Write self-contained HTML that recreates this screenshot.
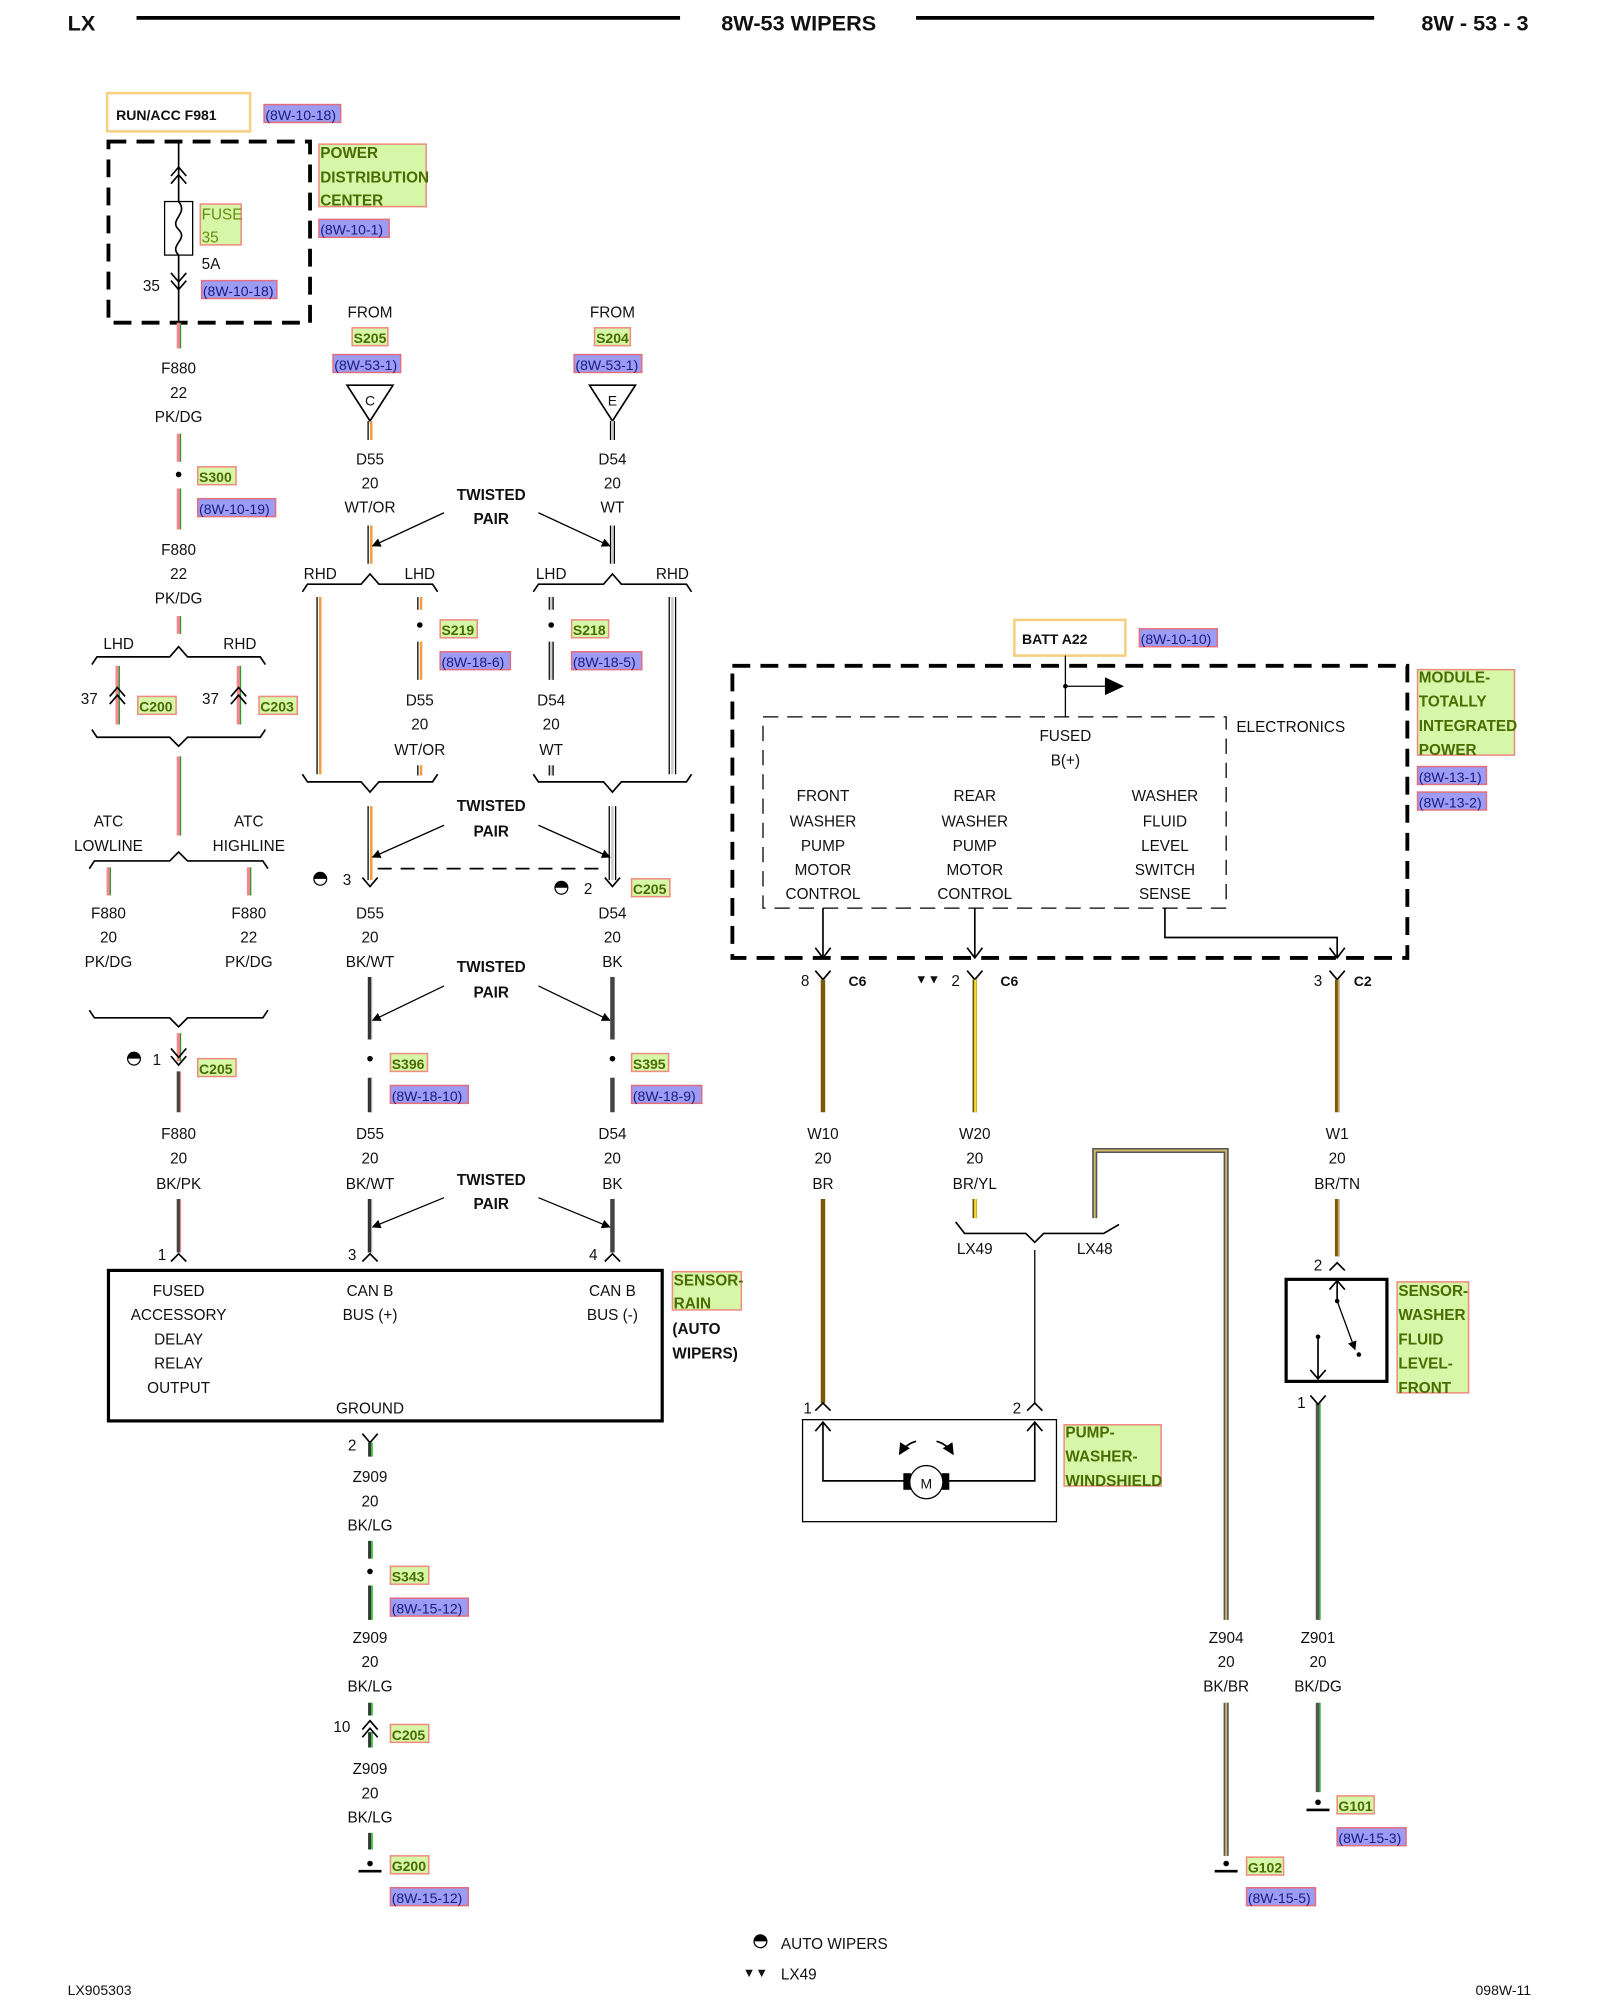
<!DOCTYPE html>
<html><head><meta charset="utf-8"><style>
html,body{margin:0;padding:0;background:#fff}
svg{display:block}
text{font-family:"Liberation Sans",sans-serif;font-size:12px;fill:#111}
.c{text-anchor:middle}
.b{font-weight:bold}
.g{fill:#4a6b00;font-weight:bold}
.bl{fill:#1a1a80}
.gr{fill:#d6f7a8;stroke:#ef8c80;stroke-width:1.2}
.br{fill:#9c9cf5;stroke:#e07080;stroke-width:1.2}
.k{stroke:#000;fill:none;stroke-width:1.3}
</style></head><body>
<svg width="1600" height="2000" viewBox="0 0 1254 1568" preserveAspectRatio="none" xmlns="http://www.w3.org/2000/svg">
<defs>
<marker id="ah" viewBox="0 0 10 10" refX="9" refY="5" markerWidth="7" markerHeight="7" orient="auto"><path d="M0,0 L10,5 L0,10z" fill="#000"/></marker>
</defs>
<!-- header -->
<text x="53" y="24" class="b" style="font-size:17px">LX</text>
<line x1="107" y1="14" x2="533" y2="14" stroke="#000" stroke-width="3"/>
<text x="626" y="24" class="b c" style="font-size:17px">8W-53 WIPERS</text>
<line x1="718" y1="14" x2="1077" y2="14" stroke="#000" stroke-width="3"/>
<text x="1198" y="24" class="b" style="font-size:17px;text-anchor:end">8W - 53 - 3</text>

<!-- LEFT column -->
<rect x="84" y="73" width="112" height="30" fill="none" stroke="#f5d080" stroke-width="2"/>
<text x="91" y="94" class="b" style="font-size:11px">RUN/ACC F981</text>
<rect x="207" y="82" width="60" height="14" class="br"/><text x="208" y="94" class="bl" style="font-size:11px">(8W-10-18)</text>
<rect x="85" y="111" width="158" height="142" fill="none" stroke="#000" stroke-width="3" stroke-dasharray="14,8"/>
<line x1="140" y1="111" x2="140" y2="273" stroke="#000" stroke-width="1.3"/>
<path d="M134,138 L140,131 L146,138 M134,144 L140,137 L146,144" class="k"/>
<path d="M134,214 L140,221 L146,214 M134,220 L140,227 L146,220" class="k"/>
<rect x="129" y="158" width="22" height="42" fill="#fff" stroke="#000"/>
<path d="M140,158 C148,168 132,172 140,180 C148,188 132,192 140,200" class="k" stroke-width="1"/>
<rect x="157" y="160" width="32" height="32" class="gr"/><text x="158" y="172" style="fill:#6a8a10">FUSE</text><text x="158" y="190" style="fill:#6a8a10">35</text>
<text x="158" y="211">5A</text><text x="112" y="228">35</text>
<rect x="158" y="220" width="59" height="14" class="br"/><text x="159" y="232" class="bl" style="font-size:11px">(8W-10-18)</text>
<rect x="250" y="113" width="84" height="49" class="gr"/>
<text x="251" y="124" class="g">POWER</text><text x="251" y="143" class="g">DISTRIBUTION</text><text x="251" y="161" class="g">CENTER</text>
<rect x="250" y="172" width="55" height="14" class="br"/><text x="251" y="184" class="bl" style="font-size:11px">(8W-10-1)</text>

<g stroke-width="3" fill="none">
<path d="M140,253V273 M140,340V362 M140,383V415 M140,483V497 M92,522V568 M187,522V568 M140,593V655 M85,680V702 M195,680V702 M140,810V832" stroke="#f08890"/>
</g>
<g stroke-width="1" fill="none" stroke="#2a9a2a">
<path d="M141.5,253V273 M141.5,340V362 M141.5,383V415 M141.5,483V497 M93.5,522V568 M188.5,522V568 M141.5,593V655 M86.5,680V702 M196.5,680V702 M141.5,810V832"/>
</g>
<text x="140" y="293" class="c">F880</text><text x="140" y="312" class="c">22</text><text x="140" y="331" class="c">PK/DG</text>
<circle cx="140" cy="372" r="2.2"/>
<rect x="155" y="366" width="30" height="14" class="gr"/><text x="156" y="378" class="g" style="font-size:11px">S300</text>
<rect x="155" y="391" width="61" height="14" class="br"/><text x="156" y="403" class="bl" style="font-size:11px">(8W-10-19)</text>
<text x="140" y="435" class="c">F880</text><text x="140" y="454" class="c">22</text><text x="140" y="473" class="c">PK/DG</text>
<text x="93" y="509" class="c">LHD</text><text x="188" y="509" class="c">RHD</text>
<path d="M72,521 L76,515 H133 L140,507 L147,515 H204 L208,521" class="k"/>
<path d="M86,552 L92,545 L98,552 M86,546 L92,539 L98,546" class="k"/>
<path d="M181,552 L187,545 L193,552 M181,546 L187,539 L193,546" class="k"/>
<text x="70" y="552" class="c">37</text><text x="165" y="552" class="c">37</text>
<rect x="108" y="546" width="30" height="14" class="gr"/><text x="109" y="558" class="g" style="font-size:11px">C200</text>
<rect x="203" y="546" width="30" height="14" class="gr"/><text x="204" y="558" class="g" style="font-size:11px">C203</text>
<path d="M72,572 L76,578 H133 L140,585 L147,578 H204 L208,572" class="k"/>
<text x="85" y="648" class="c">ATC</text><text x="85" y="667" class="c">LOWLINE</text>
<text x="195" y="648" class="c">ATC</text><text x="195" y="667" class="c">HIGHLINE</text>
<path d="M70,681 L74,675 H133 L140,668 L147,675 H206 L210,681" class="k"/>
<text x="85" y="720" class="c">F880</text><text x="85" y="739" class="c">20</text><text x="85" y="758" class="c">PK/DG</text>
<text x="195" y="720" class="c">F880</text><text x="195" y="739" class="c">22</text><text x="195" y="758" class="c">PK/DG</text>
<path d="M70,792 L74,798 H133 L140,805 L147,798 H206 L210,792" class="k"/>
<path d="M134,822 L140,829 L146,822 M134,828 L140,835 L146,828" class="k"/>
<path d="M100,830 A5,5 0 0 1 110,830 Z" fill="#000"/><circle cx="105" cy="830" r="5" fill="none" stroke="#000"/>
<text x="123" y="835" class="c">1</text>
<rect x="155" y="830" width="30" height="14" class="gr"/><text x="156" y="842" class="g" style="font-size:11px">C205</text>
<path d="M140,840V872 M140,940V982" stroke="#444" stroke-width="3"/>
<path d="M141.5,840V872 M141.5,940V982" stroke="#f08890" stroke-width="1"/>
<text x="140" y="893" class="c">F880</text><text x="140" y="912" class="c">20</text><text x="140" y="932" class="c">BK/PK</text>
<text x="127" y="988" class="c">1</text><path d="M134,989 L140,983 L146,989" class="k"/>

<!-- sensor rain -->
<rect x="85" y="996" width="434" height="118" fill="none" stroke="#000" stroke-width="2.5"/>
<text x="140" y="1016" class="c">FUSED</text><text x="140" y="1035" class="c">ACCESSORY</text><text x="140" y="1054" class="c">DELAY</text><text x="140" y="1073" class="c">RELAY</text><text x="140" y="1092" class="c">OUTPUT</text>
<text x="290" y="1016" class="c">CAN B</text><text x="290" y="1035" class="c">BUS (+)</text>
<text x="480" y="1016" class="c">CAN B</text><text x="480" y="1035" class="c">BUS (-)</text>
<text x="290" y="1108" class="c">GROUND</text>
<rect x="527" y="997" width="54" height="30" class="gr"/><text x="528" y="1008" class="g">SENSOR-</text><text x="528" y="1026" class="g">RAIN</text>
<text x="527" y="1046" class="b">(AUTO</text><text x="527" y="1065" class="b">WIPERS)</text>

<!-- Z909 -->
<text x="276" y="1137" class="c">2</text><path d="M284,1124 L290,1131 L296,1124" class="k"/>
<path d="M290,1131V1142 M290,1208V1222 M290,1243V1270 M290,1335V1345 M290,1358V1370 M290,1437V1450" stroke="#333" stroke-width="3"/>
<path d="M291.5,1131V1142 M291.5,1208V1222 M291.5,1243V1270 M291.5,1335V1345 M291.5,1358V1370 M291.5,1437V1450" stroke="#40c040" stroke-width="1.5"/>
<text x="290" y="1162" class="c">Z909</text><text x="290" y="1181" class="c">20</text><text x="290" y="1200" class="c">BK/LG</text>
<circle cx="290" cy="1232" r="2.2"/>
<rect x="306" y="1228" width="30" height="14" class="gr"/><text x="307" y="1240" class="g" style="font-size:11px">S343</text>
<rect x="306" y="1253" width="61" height="14" class="br"/><text x="307" y="1265" class="bl" style="font-size:11px">(8W-15-12)</text>
<text x="290" y="1288" class="c">Z909</text><text x="290" y="1307" class="c">20</text><text x="290" y="1326" class="c">BK/LG</text>
<text x="268" y="1358" class="c">10</text><path d="M284,1356 L290,1349 L296,1356 M284,1362 L290,1355 L296,1362" class="k"/>
<rect x="306" y="1352" width="30" height="14" class="gr"/><text x="307" y="1364" class="g" style="font-size:11px">C205</text>
<text x="290" y="1391" class="c">Z909</text><text x="290" y="1410" class="c">20</text><text x="290" y="1429" class="c">BK/LG</text>
<circle cx="290" cy="1461" r="2.2"/><line x1="281" y1="1467" x2="299" y2="1467" stroke="#000" stroke-width="2"/>
<rect x="306" y="1455" width="30" height="14" class="gr"/><text x="307" y="1467" class="g" style="font-size:11px">G200</text>
<rect x="306" y="1480" width="61" height="14" class="br"/><text x="307" y="1492" class="bl" style="font-size:11px">(8W-15-12)</text>

<!-- middle D55 / D54 -->
<text x="290" y="249" class="c">FROM</text>
<rect x="276" y="257" width="28" height="14" class="gr"/><text x="290" y="269" class="g c" style="font-size:11px">S205</text>
<rect x="261" y="278" width="53" height="14" class="br"/><text x="262" y="290" class="bl" style="font-size:11px">(8W-53-1)</text>
<path d="M272,302 H308 L290,330 Z" class="k"/><text x="290" y="318" class="c" style="font-size:11px">C</text>
<text x="480" y="249" class="c">FROM</text>
<rect x="466" y="257" width="28" height="14" class="gr"/><text x="480" y="269" class="g c" style="font-size:11px">S204</text>
<rect x="450" y="278" width="53" height="14" class="br"/><text x="451" y="290" class="bl" style="font-size:11px">(8W-53-1)</text>
<path d="M462,302 H498 L480,330 Z" class="k"/><text x="480" y="318" class="c" style="font-size:11px">E</text>

<g fill="none">
<path d="M288.5,330V345 M288.5,412V442 M248.5,468V607 M327.5,468V478 M327.5,503V533 M327.5,600V608 M288.5,632V690" stroke="#000" stroke-width="1"/>
<path d="M291,330V345 M291,412V442 M251,468V607 M330,468V478 M330,503V533 M330,600V608 M291,632V690" stroke="#f0a040" stroke-width="2"/>
<path d="M478.5,330V345 M481.5,330V345 M478.5,412V442 M481.5,412V442 M430.5,468V478 M433.5,468V478 M430.5,503V533 M433.5,503V533 M430.5,600V608 M433.5,600V608 M524.5,468V607 M529.5,468V607 M477.5,632V690 M482.5,632V690" stroke="#000" stroke-width="1"/>
<path d="M480,330V345 M480,412V442 M432,468V478 M432,503V533 M432,600V608 M527,468V607 M480,632V690" stroke="#ccc" stroke-width="2"/>
</g>
<text x="290" y="364" class="c">D55</text><text x="290" y="383" class="c">20</text><text x="290" y="402" class="c">WT/OR</text>
<text x="480" y="364" class="c">D54</text><text x="480" y="383" class="c">20</text><text x="480" y="402" class="c">WT</text>
<text x="385" y="392" class="b c">TWISTED</text><text x="385" y="411" class="b c">PAIR</text>
<line x1="348" y1="402" x2="292" y2="428" stroke="#000" marker-end="url(#ah)"/>
<line x1="422" y1="402" x2="478" y2="428" stroke="#000" marker-end="url(#ah)"/>
<text x="251" y="454" class="c">RHD</text><text x="329" y="454" class="c">LHD</text>
<text x="432" y="454" class="c">LHD</text><text x="527" y="454" class="c">RHD</text>
<path d="M237,464 L241,458 H283 L290,450 L297,458 H339 L343,464" class="k"/>
<path d="M418,464 L422,458 H473 L480,450 L487,458 H538 L542,464" class="k"/>
<circle cx="329" cy="490" r="2.2"/><circle cx="432" cy="490" r="2.2"/>
<rect x="345" y="486" width="29" height="14" class="gr"/><text x="346" y="498" class="g" style="font-size:11px">S219</text>
<rect x="345" y="511" width="55" height="14" class="br"/><text x="346" y="523" class="bl" style="font-size:11px">(8W-18-6)</text>
<rect x="448" y="486" width="29" height="14" class="gr"/><text x="449" y="498" class="g" style="font-size:11px">S218</text>
<rect x="448" y="511" width="55" height="14" class="br"/><text x="449" y="523" class="bl" style="font-size:11px">(8W-18-5)</text>
<text x="329" y="553" class="c">D55</text><text x="329" y="572" class="c">20</text><text x="329" y="592" class="c">WT/OR</text>
<text x="432" y="553" class="c">D54</text><text x="432" y="572" class="c">20</text><text x="432" y="592" class="c">WT</text>
<path d="M237,607 L241,613 H283 L290,621 L297,613 H339 L343,607" class="k"/>
<path d="M418,607 L422,613 H473 L480,621 L487,613 H538 L542,607" class="k"/>
<text x="385" y="636" class="b c">TWISTED</text><text x="385" y="656" class="b c">PAIR</text>
<line x1="348" y1="647" x2="292" y2="672" stroke="#000" marker-end="url(#ah)"/>
<line x1="422" y1="647" x2="478" y2="672" stroke="#000" marker-end="url(#ah)"/>
<line x1="296" y1="681" x2="475" y2="681" stroke="#000" stroke-width="1.3" stroke-dasharray="11,7"/>
<path d="M284,688 L290,695 L296,688 M474,688 L480,695 L486,688" class="k"/>
<path d="M246,689 A5,5 0 0 1 256,689 Z" fill="#000"/><circle cx="251" cy="689" r="5" fill="none" stroke="#000"/>
<path d="M435,696 A5,5 0 0 1 445,696 Z" fill="#000"/><circle cx="440" cy="696" r="5" fill="none" stroke="#000"/>
<text x="272" y="694" class="c">3</text><text x="461" y="701" class="c">2</text>
<rect x="495" y="689" width="30" height="14" class="gr"/><text x="496" y="701" class="g" style="font-size:11px">C205</text>
<text x="290" y="720" class="c">D55</text><text x="290" y="739" class="c">20</text><text x="290" y="758" class="c">BK/WT</text>
<text x="480" y="720" class="c">D54</text><text x="480" y="739" class="c">20</text><text x="480" y="758" class="c">BK</text>
<g fill="none">
<path d="M290,766V815 M290,845V872 M290,940V982" stroke="#333" stroke-width="3.5"/>
<path d="M291.5,766V815 M291.5,845V872 M291.5,940V982" stroke="#ddd" stroke-width="1"/>
<path d="M480,766V815 M480,845V872 M480,940V982" stroke="#444" stroke-width="3.5"/>
</g>
<text x="385" y="762" class="b c">TWISTED</text><text x="385" y="782" class="b c">PAIR</text>
<line x1="348" y1="773" x2="292" y2="800" stroke="#000" marker-end="url(#ah)"/>
<line x1="422" y1="773" x2="478" y2="800" stroke="#000" marker-end="url(#ah)"/>
<circle cx="290" cy="830" r="2.2"/><circle cx="480" cy="830" r="2.2"/>
<rect x="306" y="826" width="29" height="14" class="gr"/><text x="307" y="838" class="g" style="font-size:11px">S396</text>
<rect x="306" y="851" width="61" height="14" class="br"/><text x="307" y="863" class="bl" style="font-size:11px">(8W-18-10)</text>
<rect x="495" y="826" width="29" height="14" class="gr"/><text x="496" y="838" class="g" style="font-size:11px">S395</text>
<rect x="495" y="851" width="55" height="14" class="br"/><text x="496" y="863" class="bl" style="font-size:11px">(8W-18-9)</text>
<text x="290" y="893" class="c">D55</text><text x="290" y="912" class="c">20</text><text x="290" y="932" class="c">BK/WT</text>
<text x="480" y="893" class="c">D54</text><text x="480" y="912" class="c">20</text><text x="480" y="932" class="c">BK</text>
<text x="385" y="929" class="b c">TWISTED</text><text x="385" y="948" class="b c">PAIR</text>
<line x1="348" y1="939" x2="292" y2="962" stroke="#000" marker-end="url(#ah)"/>
<line x1="422" y1="939" x2="478" y2="962" stroke="#000" marker-end="url(#ah)"/>
<text x="276" y="988" class="c">3</text><path d="M284,989 L290,983 L296,989" class="k"/>
<text x="465" y="988" class="c">4</text><path d="M474,989 L480,983 L486,989" class="k"/>

<!-- RIGHT: module -->
<rect x="795" y="486" width="87" height="28" fill="none" stroke="#f5d080" stroke-width="2"/>
<text x="801" y="505" class="b" style="font-size:11px">BATT A22</text>
<rect x="893" y="493" width="61" height="14" class="br"/><text x="894" y="505" class="bl" style="font-size:11px">(8W-10-10)</text>
<rect x="574" y="522" width="529" height="229" fill="none" stroke="#000" stroke-width="3" stroke-dasharray="14,8"/>
<line x1="835" y1="514" x2="835" y2="562" stroke="#000"/>
<circle cx="835" cy="538" r="1.8"/>
<line x1="835" y1="538" x2="866" y2="538" stroke="#000"/><path d="M866,531 L881,538 L866,545Z" fill="#000"/>
<rect x="598" y="562" width="363" height="150" fill="none" stroke="#000" stroke-width="1" stroke-dasharray="12,7"/>
<text x="969" y="574">ELECTRONICS</text>
<text x="835" y="581" class="c">FUSED</text><text x="835" y="600" class="c">B(+)</text>
<text x="645" y="628" class="c">FRONT</text><text x="645" y="648" class="c">WASHER</text><text x="645" y="667" class="c">PUMP</text><text x="645" y="686" class="c">MOTOR</text><text x="645" y="705" class="c">CONTROL</text>
<text x="764" y="628" class="c">REAR</text><text x="764" y="648" class="c">WASHER</text><text x="764" y="667" class="c">PUMP</text><text x="764" y="686" class="c">MOTOR</text><text x="764" y="705" class="c">CONTROL</text>
<text x="913" y="628" class="c">WASHER</text><text x="913" y="648" class="c">FLUID</text><text x="913" y="667" class="c">LEVEL</text><text x="913" y="686" class="c">SWITCH</text><text x="913" y="705" class="c">SENSE</text>
<path d="M645,712V751 M764,712V751 M913,712V735 H1048 V751" class="k" stroke-width="1"/>
<path d="M639,743 L645,751 L651,743 M758,743 L764,751 L770,743 M1042,743 L1048,751 L1054,743" class="k" stroke-width="1"/>
<rect x="1111" y="525" width="76" height="67" class="gr"/>
<text x="1112" y="535" class="g">MODULE-</text><text x="1112" y="554" class="g">TOTALLY</text><text x="1112" y="573" class="g">INTEGRATED</text><text x="1112" y="592" class="g">POWER</text>
<rect x="1111" y="601" width="54" height="14" class="br"/><text x="1112" y="613" class="bl" style="font-size:11px">(8W-13-1)</text>
<rect x="1111" y="621" width="54" height="14" class="br"/><text x="1112" y="633" class="bl" style="font-size:11px">(8W-13-2)</text>
<text x="631" y="773" class="c">8</text><text x="665" y="773" class="b" style="font-size:11px">C6</text>
<text x="727" y="771" class="c" style="font-size:10px">▼▼</text><text x="749" y="773" class="c">2</text><text x="784" y="773" class="b" style="font-size:11px">C6</text>
<text x="1033" y="773" class="c">3</text><text x="1061" y="773" class="b" style="font-size:11px">C2</text>
<path d="M639,761 L645,768 L651,761 M758,761 L764,768 L770,761 M1042,761 L1048,768 L1054,761" class="k"/>
<g fill="none">
<path d="M645,768V872 M645,940V1100 M1048,768V872 M1048,940V985" stroke="#7a5a0a" stroke-width="3.5"/>
<path d="M1049,768V872 M1049,940V985" stroke="#c9a860" stroke-width="1"/>
<path d="M764,768V872 M764,940V955" stroke="#6a5010" stroke-width="3.5"/>
<path d="M764.5,768V872 M764.5,940V955" stroke="#f5e030" stroke-width="2"/>
<path d="M858,955V902 H961 V1270 M961,1335V1455" stroke="#555" stroke-width="4"/>
<path d="M858,955V902 H961 V1270 M961,1335V1455" stroke="#d0b868" stroke-width="1.5"/>
<path d="M1033,1100V1270 M1033,1335V1405" stroke="#555" stroke-width="3.5"/>
<path d="M1034.5,1100V1270 M1034.5,1335V1405" stroke="#40b040" stroke-width="1.2"/>
</g>
<text x="645" y="893" class="c">W10</text><text x="645" y="912" class="c">20</text><text x="645" y="932" class="c">BR</text>
<text x="764" y="893" class="c">W20</text><text x="764" y="912" class="c">20</text><text x="764" y="932" class="c">BR/YL</text>
<text x="1048" y="893" class="c">W1</text><text x="1048" y="912" class="c">20</text><text x="1048" y="932" class="c">BR/TN</text>
<path d="M749,958 L756,967 H804 L811,974 L818,967 H865 L877,960" class="k"/>
<text x="764" y="983" class="c">LX49</text><text x="858" y="983" class="c">LX48</text>
<line x1="811" y1="980" x2="811" y2="1100" stroke="#000"/>
<!-- pump -->
<text x="633" y="1108" class="c">1</text><path d="M639,1106 L645,1100 L651,1106" class="k"/>
<text x="797" y="1108" class="c">2</text><path d="M805,1106 L811,1100 L817,1106" class="k"/>
<rect x="629" y="1113" width="199" height="80" fill="none" stroke="#000" stroke-width="1"/>
<path d="M645,1115V1161 H713 M740,1161 H811 V1115 M639,1122 L645,1115 L651,1122 M805,1122 L811,1115 L817,1122" class="k"/>
<rect x="708" y="1155" width="6" height="13" fill="#000"/><rect x="738" y="1155" width="6" height="13" fill="#000"/>
<circle cx="726" cy="1162" r="13" fill="#fff" stroke="#000"/><text x="726" y="1167" class="c" style="font-size:11px">M</text>
<path d="M718,1130 Q710,1132 705,1140" class="k" marker-end="url(#ah)"/>
<path d="M734,1130 Q742,1132 747,1140" class="k" marker-end="url(#ah)"/>
<rect x="834" y="1117" width="76" height="48" class="gr"/>
<text x="835" y="1127" class="g">PUMP-</text><text x="835" y="1146" class="g">WASHER-</text><text x="835" y="1165" class="g">WINDSHIELD</text>
<!-- fluid level sensor -->
<text x="1033" y="996" class="c">2</text><path d="M1042,996 L1048,990 L1054,996" class="k"/>
<rect x="1008" y="1003" width="79" height="80" fill="none" stroke="#000" stroke-width="2.5"/>
<path d="M1048,1005V1020 M1042,1011 L1048,1004 L1054,1011" class="k" stroke-width="1"/>
<circle cx="1048" cy="1020" r="1.8"/><line x1="1048" y1="1020" x2="1062" y2="1058" stroke="#000" marker-end="url(#ah)"/><circle cx="1065" cy="1062" r="1.8"/>
<path d="M1033,1048V1081 M1027,1074 L1033,1081 L1039,1074" class="k" stroke-width="1"/><circle cx="1033" cy="1048" r="1.8"/>
<text x="1020" y="1104" class="c">1</text><path d="M1027,1094 L1033,1101 L1039,1094" class="k"/>
<rect x="1095" y="1005" width="56" height="87" class="gr"/>
<text x="1096" y="1016" class="g">SENSOR-</text><text x="1096" y="1035" class="g">WASHER</text><text x="1096" y="1054" class="g">FLUID</text><text x="1096" y="1073" class="g">LEVEL-</text><text x="1096" y="1092" class="g">FRONT</text>
<text x="961" y="1288" class="c">Z904</text><text x="961" y="1307" class="c">20</text><text x="961" y="1326" class="c">BK/BR</text>
<text x="1033" y="1288" class="c">Z901</text><text x="1033" y="1307" class="c">20</text><text x="1033" y="1326" class="c">BK/DG</text>
<circle cx="1033" cy="1413" r="2.2"/><line x1="1024" y1="1419" x2="1042" y2="1419" stroke="#000" stroke-width="2"/>
<rect x="1048" y="1408" width="29" height="14" class="gr"/><text x="1049" y="1420" class="g" style="font-size:11px">G101</text>
<rect x="1048" y="1433" width="54" height="14" class="br"/><text x="1049" y="1445" class="bl" style="font-size:11px">(8W-15-3)</text>
<circle cx="961" cy="1461" r="2.2"/><line x1="952" y1="1467" x2="970" y2="1467" stroke="#000" stroke-width="2"/>
<rect x="977" y="1456" width="29" height="14" class="gr"/><text x="978" y="1468" class="g" style="font-size:11px">G102</text>
<rect x="977" y="1480" width="54" height="14" class="br"/><text x="978" y="1492" class="bl" style="font-size:11px">(8W-15-5)</text>

<!-- footer -->
<path d="M591,1522 A5,5 0 0 1 601,1522 Z" fill="#000"/><circle cx="596" cy="1522" r="5" fill="none" stroke="#000"/>
<text x="612" y="1528">AUTO WIPERS</text>
<text x="592" y="1550" class="c" style="font-size:10px">▼▼</text><text x="612" y="1552">LX49</text>
<text x="53" y="1564" style="font-size:11px">LX905303</text>
<text x="1200" y="1564" style="font-size:11px;text-anchor:end">098W-11</text>
</svg>
</body></html>
